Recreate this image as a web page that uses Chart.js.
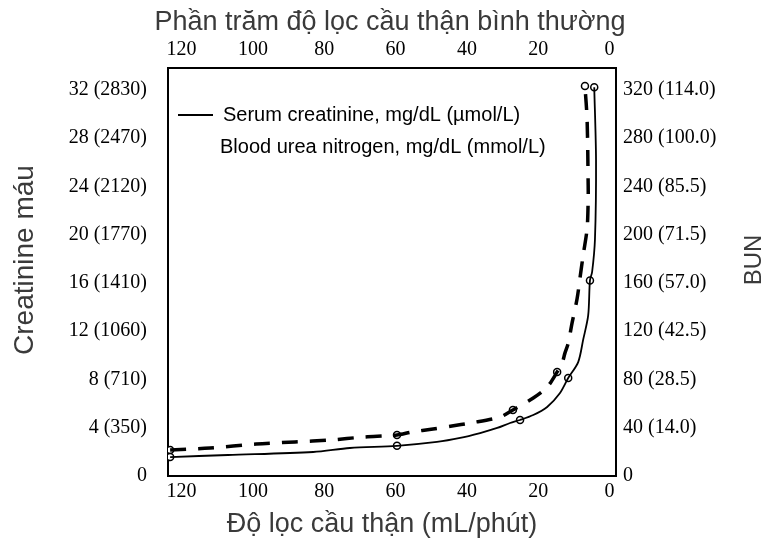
<!DOCTYPE html>
<html><head><meta charset="utf-8">
<script src="https://cdn.jsdelivr.net/npm/chart.js@4/dist/chart.umd.min.js"></script>
<style>html,body{margin:0;padding:0;background:#fff;}#wrap{width:765px;height:545px;}</style>
</head><body><div id="wrap"><canvas id="c" width="765" height="545"></canvas></div>
<script>
// ---- data ----
const gfrTicks = [0, 20, 40, 60, 80, 100, 120];
const creatTicks = [0, 4, 8, 12, 16, 20, 24, 28, 32];
const creatTickLabels = ['0', '4 (350)', '8 (710)', '12 (1060)', '16 (1410)', '20 (1770)', '24 (2120)', '28 (2470)', '32 (2830)'];
const bunTicks = [0, 40, 80, 120, 160, 200, 240, 280, 320];
const bunTickLabels = ['0', '40 (14.0)', '80 (28.5)', '120 (42.5)', '160 (57.0)', '200 (71.5)', '240 (85.5)', '280 (100.0)', '320 (114.0)'];

const creatGfr =    [123.2, 107, 83.1, 72.8, 59.6, 48.4, 41.9, 36.3, 31.5, 27.9, 25.1, 21.4, 17.5, 13.9, 11.6, 8.8, 7.4, 6.0, 5.5, 4.9, 4.1, 3.8, 4.3];
const creatValues = [1.57, 1.74, 1.99, 2.32, 2.5, 2.82, 3.15, 3.56, 3.98, 4.39, 4.64, 5.05, 5.72, 6.88, 8.12, 9.44, 11.3, 13.3, 16.2, 16.9, 19.6, 26.2, 32.2];

const bunGfr =    [123.2, 112, 99.1, 88.2, 78.4, 68.9, 59.6, 55.4, 49.5, 44.2, 39.1, 30.7, 27.1, 21.4, 17.5, 14.7, 13.3, 12.5, 11.6, 10.5, 9.1, 8.3, 7.4, 6.3, 6.0, 6.0, 6.3, 6.9];
const bunValues = [21.5, 23.2, 26.5, 28.2, 29.8, 32.3, 34.0, 36.5, 38.9, 41.4, 43.9, 48.9, 54.7, 64.6, 73.7, 86.2, 93.6, 102, 110, 127, 147, 164, 183, 205, 229, 241, 295, 323];

const creatMarkGfr =    [123.2, 59.6, 25.1, 11.6, 5.5, 4.3];
const creatMarkValues = [1.57, 2.5, 4.64, 8.12, 16.2, 32.2];
const bunMarkGfr =    [123.2, 59.6, 27.1, 14.7, 6.9];
const bunMarkValues = [21.5, 34.0, 54.7, 86.2, 323];

const seriesLabels = ['Serum creatinine, mg/dL (µmol/L)', 'Blood urea nitrogen, mg/dL (mmol/L)'];
const titleTop = 'Phần trăm độ lọc cầu thận bình thường';
const titleBottom = 'Độ lọc cầu thận (mL/phút)';
const titleLeft = 'Creatinine máu';
const titleRight = 'BUN';

// ---- chart ----
const pts = (xs, ys) => xs.map((x, i) => ({x: x, y: ys[i]}));
const tickFont = {family: "'Liberation Serif', 'Times New Roman', serif", size: 20};
const sansFamily = "'Liberation Sans', Arial, sans-serif";

function xAxis(pos, h, pad) {
  return {
    type: 'linear', position: pos, reverse: true, min: -1.8, max: 123.8,
    afterBuildTicks: s => { s.ticks = gfrTicks.map(v => ({value: v})); },
    afterFit: s => { s.height = h; },
    ticks: {font: tickFont, color: '#000', padding: pad, maxRotation: 0, autoSkip: false, callback: v => String(v)},
    grid: {display: false, drawTicks: false},
    border: {display: true, color: '#000', width: 2}
  };
}

const textPlugin = {
  id: 'texts',
  afterDraw(chart) {
    const ctx = chart.ctx, a = chart.chartArea;
    ctx.save();
    ctx.fillStyle = '#3a3a3a';
    ctx.textBaseline = 'middle';
    ctx.textAlign = 'center';
    ctx.font = '27px ' + sansFamily;
    ctx.fillText(titleTop, (a.left + a.right) / 2 - 2, a.top - 45);
    ctx.fillText(titleBottom, (a.left + a.right) / 2 - 10, a.bottom + 49);
    ctx.save();
    ctx.translate(25, (a.top + a.bottom) / 2 - 12);
    ctx.rotate(-Math.PI / 2);
    ctx.font = '28px ' + sansFamily;
    ctx.fillText(titleLeft, 0, 0);
    ctx.restore();
    ctx.save();
    ctx.translate(754, (a.top + a.bottom) / 2 - 12);
    ctx.rotate(-Math.PI / 2);
    ctx.font = '24px ' + sansFamily;
    ctx.fillText(titleRight, 0, 0);
    ctx.restore();
    // legend
    ctx.fillStyle = '#000';
    ctx.textAlign = 'left';
    ctx.font = '20px ' + sansFamily;
    const d0 = chart.data.datasets[0];
    ctx.strokeStyle = d0.borderColor;
    ctx.lineWidth = d0.borderWidth;
    ctx.beginPath();
    ctx.moveTo(a.left + 10, a.top + 47);
    ctx.lineTo(a.left + 45, a.top + 47);
    ctx.stroke();
    ctx.fillText(d0.label, a.left + 55, a.top + 47);
    ctx.fillText(chart.data.datasets[1].label, a.left + 52, a.top + 79);
    ctx.restore();
  }
};

new Chart(document.getElementById('c'), {
  type: 'scatter',
  data: {
    datasets: [
      {label: seriesLabels[0], data: pts(creatGfr, creatValues), xAxisID: 'x', yAxisID: 'yL', showLine: true,
       borderColor: '#000', borderWidth: 1.8, pointRadius: 0, tension: 0.3, fill: false},
      {label: seriesLabels[1], data: pts(bunGfr, bunValues), xAxisID: 'x', yAxisID: 'yR', showLine: true,
       borderColor: '#000', borderWidth: 3.5, borderDash: [16, 12], pointRadius: 0, tension: 0.3, fill: false},
      {label: 'cm', data: pts(creatMarkGfr, creatMarkValues), xAxisID: 'x', yAxisID: 'yL', showLine: false,
       pointRadius: 3.5, pointBackgroundColor: '#fff', pointBorderColor: '#000', pointBorderWidth: 1.5},
      {label: 'bm', data: pts(bunMarkGfr, bunMarkValues), xAxisID: 'x', yAxisID: 'yR', showLine: false,
       pointRadius: 3.5, pointBackgroundColor: '#fff', pointBorderColor: '#000', pointBorderWidth: 1.5}
    ]
  },
  options: {
    responsive: false, animation: false, devicePixelRatio: 1,
    layout: {padding: 0},
    plugins: {legend: {display: false}, tooltip: {enabled: false}},
    scales: {
      x: xAxis('bottom', 69, 4),
      x2: xAxis('top', 68, 6),
      yL: {
        type: 'linear', position: 'left', min: 0, max: 33.8,
        afterBuildTicks: s => { s.ticks = creatTicks.map(v => ({value: v})); },
        afterFit: s => { s.width = 168; },
        ticks: {font: tickFont, color: '#000', padding: 21, callback: v => creatTickLabels[creatTicks.indexOf(v)]},
        grid: {display: false, drawTicks: false},
        border: {display: true, color: '#000', width: 2}
      },
      yR: {
        type: 'linear', position: 'right', min: 0, max: 338,
        afterBuildTicks: s => { s.ticks = bunTicks.map(v => ({value: v})); },
        afterFit: s => { s.width = 149; },
        ticks: {font: tickFont, color: '#000', padding: 7, callback: v => bunTickLabels[bunTicks.indexOf(v)]},
        grid: {display: false, drawTicks: false},
        border: {display: true, color: '#000', width: 2}
      }
    }
  },
  plugins: [textPlugin]
});
</script></body></html>
